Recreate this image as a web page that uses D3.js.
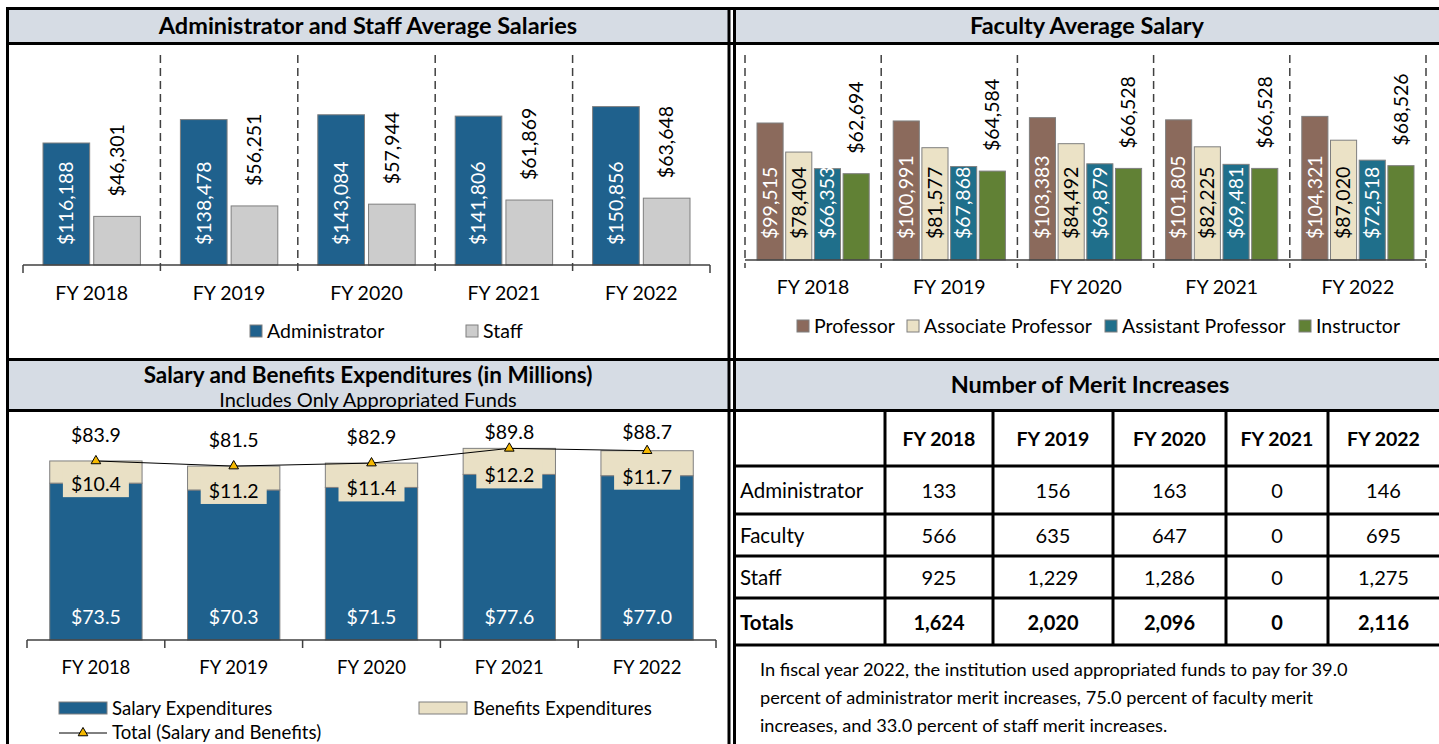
<!DOCTYPE html>
<html>
<head>
<meta charset="utf-8">
<script src="https://cdn.jsdelivr.net/npm/d3@7"></script>
<style>
  body { margin: 0; background: #fff; }
  svg { display: block; font-family: Lato, "Open Sans", sans-serif; }
</style>
</head>
<body>
<svg id="page" width="1439" height="744"></svg>
<script>
// ---------- data ----------
const years = ["FY 2018", "FY 2019", "FY 2020", "FY 2021", "FY 2022"];

const adminSalary = [116188, 138478, 143084, 141806, 150856];
const staffSalary = [46301, 56251, 57944, 61869, 63648];

const facultyRanks = ["Professor", "Associate Professor", "Assistant Professor", "Instructor"];
const professorSalary = [99515, 100991, 103383, 101805, 104321];
const assocSalary = [78404, 81577, 84492, 82225, 87020];
const asstSalary = [66353, 67868, 69879, 69481, 72518];
const instructorSalary = [62694, 64584, 66528, 66528, 68526];

const salaryExp = [73.5, 70.3, 71.5, 77.6, 77.0];
const benefitsExp = [10.4, 11.2, 11.4, 12.2, 11.7];
const totalExp = [83.9, 81.5, 82.9, 89.8, 88.7];

const meritRows = ["Administrator", "Faculty", "Staff", "Totals"];
const meritAdmin = [133, 156, 163, 0, 146];
const meritFaculty = [566, 635, 647, 0, 695];
const meritStaff = [925, 1229, 1286, 0, 1275];
const meritTotals = [1624, 2020, 2096, 0, 2116];

const meritNote = [
    "In fiscal year 2022, the institution used appropriated funds to pay for 39.0",
    "percent of administrator merit increases, 75.0 percent of faculty merit",
    "increases, and 33.0 percent of staff merit increases."
];

// ---------- colours / type ----------
const headerFill = "#d6dce4";
const barStroke = "#7f7f7f";
const blue = "#1f618d";
const staffGray = "#cccccc";
const rankColors = ["#8b6a5c", "#ebe2c6", "#1f6f8b", "#618135"];
const beige = "#e9e0c5";
const FS = 19.5;     // chart text in the top panels

const svg = d3.select("#page");
const fmtMoney = d3.format("$,");
const fmtMil = d3.format("$.1f");
const fmtCount = d3.format(",");

/**
 * Rotated value label (reads bottom to top), anchored at its start
 */
function vLabel(g, x, y, text, color) {
    g.append("text")
        .attr("transform", `translate(${x},${y}) rotate(-90)`)
        .attr("dy", "0.35em")
        .attr("font-size", FS)
        .attr("fill", color)
        .text(text);
}

/**
 * Panel borders and header strips
 */
function drawFrame() {
    const g = svg.append("g");
    g.append("rect").attr("x", 8).attr("y", 9).attr("width", 720).attr("height", 34).attr("fill", headerFill);
    g.append("rect").attr("x", 736).attr("y", 9).attr("width", 703).attr("height", 34).attr("fill", headerFill);
    g.append("rect").attr("x", 8).attr("y", 360).attr("width", 720).attr("height", 50).attr("fill", headerFill);
    g.append("rect").attr("x", 736).attr("y", 360).attr("width", 703).attr("height", 50).attr("fill", headerFill);

    const lines = [
        [6, 8.5, 1439, 8.5],
        [6, 43.5, 1439, 43.5],
        [6, 359.5, 1439, 359.5],
        [6, 410.5, 1439, 410.5],
        [7.5, 7, 7.5, 744],
        [729, 7, 729, 744],
        [734.5, 7, 734.5, 744]
    ];
    g.selectAll("line").data(lines).enter().append("line")
        .attr("x1", d => d[0]).attr("y1", d => d[1])
        .attr("x2", d => d[2]).attr("y2", d => d[3])
        .attr("stroke", "#000").attr("stroke-width", 3);

    const titles = [
        { x: 368, y: 26, t: "Administrator and Staff Average Salaries", b: true, s: 23.5 },
        { x: 1087, y: 26, t: "Faculty Average Salary", b: true, s: 23.5 },
        { x: 368, y: 375, t: "Salary and Benefits Expenditures (in Millions)", b: true, s: 22.5 },
        { x: 368, y: 400, t: "Includes Only Appropriated Funds", b: false, s: 20 },
        { x: 1090, y: 385, t: "Number of Merit Increases", b: true, s: 23.5 }
    ];
    g.selectAll("text").data(titles).enter().append("text")
        .attr("x", d => d.x).attr("y", d => d.y)
        .attr("dy", "0.35em")
        .attr("text-anchor", "middle")
        .attr("font-size", d => d.s)
        .attr("font-weight", d => d.b ? "bold" : "normal")
        .text(d => d.t);
}

/**
 * Administrator and staff grouped bars
 */
function drawAdminStaff() {
    const g = svg.append("g");
    const base = 265;
    const x = d3.scaleBand().domain(years).range([23, 710]);
    const inner = d3.scaleBand().domain(["admin", "staff"]).range([20, x.bandwidth() - 20]).paddingInner(0.08);
    const y = d3.scaleLinear().domain([0, 200000]).range([base, 55]);

    // separators
    g.selectAll(".sep").data(years.slice(1)).enter().append("line")
        .attr("x1", d => x(d)).attr("x2", d => x(d))
        .attr("y1", 55).attr("y2", 273)
        .attr("stroke", "#404040").attr("stroke-width", 1.5).attr("stroke-dasharray", "8,5");

    const series = [
        { key: "admin", vals: adminSalary, fill: blue },
        { key: "staff", vals: staffSalary, fill: staffGray }
    ];
    series.forEach(s => {
        g.selectAll(".b-" + s.key).data(s.vals).enter().append("rect")
            .attr("x", (d, i) => x(years[i]) + inner(s.key))
            .attr("y", d => y(d))
            .attr("width", inner.bandwidth())
            .attr("height", d => base - y(d))
            .attr("fill", s.fill).attr("stroke", barStroke);
    });

    adminSalary.forEach((v, i) => {
        vLabel(g, x(years[i]) + inner("admin") + inner.bandwidth() / 2, base - 20, fmtMoney(v), "#fff");
    });
    staffSalary.forEach((v, i) => {
        vLabel(g, x(years[i]) + inner("staff") + inner.bandwidth() / 2, y(v) - 20, fmtMoney(v), "#000");
    });

    // axis
    g.append("line").attr("x1", 23).attr("x2", 710).attr("y1", base).attr("y2", base).attr("stroke", "#404040").attr("stroke-width", 1.5);
    [23, 710].forEach(t => g.append("line").attr("x1", t).attr("x2", t).attr("y1", base).attr("y2", base + 8).attr("stroke", "#404040").attr("stroke-width", 1.5));
    g.selectAll(".cat").data(years).enter().append("text")
        .attr("x", d => x(d) + x.bandwidth() / 2).attr("y", 293).attr("dy", "0.35em")
        .attr("text-anchor", "middle").attr("font-size", FS).text(d => d);

    // legend
    const leg = [{ x: 250, t: "Administrator", c: blue }, { x: 466, t: "Staff", c: staffGray }];
    leg.forEach(l => {
        g.append("rect").attr("x", l.x).attr("y", 325).attr("width", 12).attr("height", 12).attr("fill", l.c).attr("stroke", barStroke);
        g.append("text").attr("x", l.x + 17).attr("y", 331).attr("dy", "0.35em").attr("font-size", FS).text(l.t);
    });
}

/**
 * Faculty salaries by rank
 */
function drawFaculty() {
    const g = svg.append("g");
    const base = 260;
    const x = d3.scaleBand().domain(years).range([745, 1426]);
    const inner = d3.scaleBand().domain(facultyRanks).range([12, x.bandwidth() - 12]).paddingInner(0.09);
    const y = d3.scaleLinear().domain([0, 150000]).range([base, base - 206.5]);
    const seriesVals = [professorSalary, assocSalary, asstSalary, instructorSalary];

    const bounds = years.map(d => x(d)).concat([x(years[4]) + x.bandwidth()]);
    g.selectAll(".sep").data(bounds).enter().append("line")
        .attr("x1", d => d).attr("x2", d => d)
        .attr("y1", 55).attr("y2", 268)
        .attr("stroke", "#404040").attr("stroke-width", 1.5).attr("stroke-dasharray", "8,5");

    facultyRanks.forEach((rank, k) => {
        g.selectAll(".r" + k).data(seriesVals[k]).enter().append("rect")
            .attr("x", (d, i) => x(years[i]) + inner(rank))
            .attr("y", d => y(d))
            .attr("width", inner.bandwidth())
            .attr("height", d => base - y(d))
            .attr("fill", rankColors[k]).attr("stroke", barStroke);
    });

    const labelColors = ["#fff", "#000", "#fff"];
    facultyRanks.forEach((rank, k) => {
        seriesVals[k].forEach((v, i) => {
            const cx = x(years[i]) + inner(rank) + inner.bandwidth() / 2;
            if (k < 3) vLabel(g, cx, base - 21, fmtMoney(v), labelColors[k]);
            else vLabel(g, cx, y(v) - 20, fmtMoney(v), "#000");
        });
    });

    g.append("line").attr("x1", 745).attr("x2", 1426).attr("y1", base).attr("y2", base).attr("stroke", "#404040").attr("stroke-width", 1.5);
    g.selectAll(".cat").data(years).enter().append("text")
        .attr("x", d => x(d) + x.bandwidth() / 2).attr("y", 287).attr("dy", "0.35em")
        .attr("text-anchor", "middle").attr("font-size", FS).text(d => d);

    const legX = [797, 907, 1105, 1299];
    facultyRanks.forEach((rank, k) => {
        g.append("rect").attr("x", legX[k]).attr("y", 320).attr("width", 12).attr("height", 12).attr("fill", rankColors[k]).attr("stroke", barStroke);
        g.append("text").attr("x", legX[k] + 17).attr("y", 326).attr("dy", "0.35em").attr("font-size", FS).text(rank);
    });
}

/**
 * Stacked salary + benefits with total line
 */
function drawExpenditures() {
    const g = svg.append("g");
    const base = 640;
    const x = d3.scaleBand().domain(years).range([27, 716]).paddingInner(0.33).paddingOuter(0.165);
    const y = d3.scaleLinear().domain([0, 100]).range([base, base - 213.4]);
    const cx = i => x(years[i]) + x.bandwidth() / 2;

    g.selectAll(".sal").data(salaryExp).enter().append("rect")
        .attr("x", (d, i) => x(years[i])).attr("y", d => y(d))
        .attr("width", x.bandwidth()).attr("height", d => base - y(d))
        .attr("fill", blue).attr("stroke", barStroke);
    g.selectAll(".ben").data(benefitsExp).enter().append("rect")
        .attr("x", (d, i) => x(years[i])).attr("y", (d, i) => y(salaryExp[i] + d))
        .attr("width", x.bandwidth()).attr("height", (d, i) => y(salaryExp[i]) - y(salaryExp[i] + d))
        .attr("fill", beige).attr("stroke", barStroke);

    // benefits labels with filled background
    benefitsExp.forEach((v, i) => {
        const ty = y(salaryExp[i]) + 1;
        g.append("rect").attr("x", cx(i) - 33).attr("y", ty - 16).attr("width", 66).attr("height", 29).attr("fill", beige);
        g.append("text").attr("x", cx(i)).attr("y", ty).attr("dy", "0.35em").attr("text-anchor", "middle")
            .attr("font-size", 19.5).text(fmtMil(v));
    });
    salaryExp.forEach((v, i) => {
        g.append("text").attr("x", cx(i)).attr("y", base - 23).attr("dy", "0.35em").attr("text-anchor", "middle")
            .attr("font-size", 19.5).attr("fill", "#fff").text(fmtMil(v));
    });

    // total line
    const line = d3.line().x((d, i) => cx(i)).y(d => y(d));
    g.append("path").datum(totalExp).attr("d", line).attr("fill", "none").attr("stroke", "#000").attr("stroke-width", 1);
    const tri = d3.symbol(d3.symbolTriangle).size(40);
    g.selectAll(".mk").data(totalExp).enter().append("path")
        .attr("d", tri).attr("transform", (d, i) => `translate(${cx(i)},${y(d)})`)
        .attr("fill", "#f5b800").attr("stroke", "#000").attr("stroke-width", 1);
    totalExp.forEach((v, i) => {
        g.append("text").attr("x", cx(i)).attr("y", Math.max(y(v) - 26, y(100) + 6)).attr("dy", "0.35em")
            .attr("text-anchor", "middle").attr("font-size", 19.5).text(fmtMil(v));
    });

    // axis
    g.append("line").attr("x1", 27).attr("x2", 716).attr("y1", base).attr("y2", base).attr("stroke", "#404040").attr("stroke-width", 1.5);
    const ticks = years.map(d => x.step() * years.indexOf(d) + 27).concat([716]);
    g.selectAll(".tk").data(ticks).enter().append("line")
        .attr("x1", d => d).attr("x2", d => d).attr("y1", base).attr("y2", base + 8)
        .attr("stroke", "#404040").attr("stroke-width", 1.5);
    g.selectAll(".cat").data(years).enter().append("text")
        .attr("x", (d, i) => cx(i)).attr("y", 668).attr("dy", "0.35em")
        .attr("text-anchor", "middle").attr("font-size", 18.5).text(d => d);

    // legend
    g.append("rect").attr("x", 59).attr("y", 702).attr("width", 48).attr("height", 12).attr("fill", blue).attr("stroke", barStroke);
    g.append("text").attr("x", 112).attr("y", 708).attr("dy", "0.35em").attr("font-size", 18.6).text("Salary Expenditures");
    g.append("rect").attr("x", 419).attr("y", 702).attr("width", 48).attr("height", 12).attr("fill", beige).attr("stroke", barStroke);
    g.append("text").attr("x", 473).attr("y", 708).attr("dy", "0.35em").attr("font-size", 18.6).text("Benefits Expenditures");
    g.append("line").attr("x1", 59).attr("x2", 107).attr("y1", 733).attr("y2", 733).attr("stroke", "#000");
    g.append("path").attr("d", tri).attr("transform", "translate(83,733)").attr("fill", "#f5b800").attr("stroke", "#000");
    g.append("text").attr("x", 112).attr("y", 732).attr("dy", "0.35em").attr("font-size", 18.6).text("Total (Salary and Benefits)");
}

/**
 * Merit increase table and note
 */
function drawMeritTable() {
    const g = svg.append("g");
    const colEdges = [736, 885, 993, 1113, 1226, 1328, 1439];
    const rowEdges = [410, 466, 514, 556, 598, 645];
    const rowVals = [meritAdmin, meritFaculty, meritStaff, meritTotals];

    rowEdges.slice(1).forEach(ry => {
        g.append("line").attr("x1", 736).attr("x2", 1439).attr("y1", ry).attr("y2", ry).attr("stroke", "#000").attr("stroke-width", 3);
    });
    colEdges.slice(1, 6).forEach(cx => {
        g.append("line").attr("x1", cx).attr("x2", cx).attr("y1", 410).attr("y2", 645).attr("stroke", "#000").attr("stroke-width", 3);
    });

    const colMid = k => (colEdges[k + 1] + colEdges[k + 2]) / 2;
    const rowMid = r => (rowEdges[r] + rowEdges[r + 1]) / 2 + 1;

    years.forEach((yr, k) => {
        g.append("text").attr("x", colMid(k)).attr("y", rowMid(0)).attr("dy", "0.35em")
            .attr("text-anchor", "middle").attr("font-size", 19.5).attr("font-weight", "bold").text(yr);
    });
    meritRows.forEach((name, r) => {
        const bold = name === "Totals";
        g.append("text").attr("x", 740).attr("y", rowMid(r + 1)).attr("dy", "0.35em")
            .attr("font-size", 20.5).attr("font-weight", bold ? "bold" : "normal").text(name);
        rowVals[r].forEach((v, k) => {
            g.append("text").attr("x", colMid(k)).attr("y", rowMid(r + 1)).attr("dy", "0.35em")
                .attr("text-anchor", "middle").attr("font-size", 20)
                .attr("font-weight", bold ? "bold" : "normal").text(fmtCount(v));
        });
    });

    meritNote.forEach((t, i) => {
        g.append("text").attr("x", 760).attr("y", 670 + i * 28).attr("dy", "0.35em").attr("font-size", 18.2).text(t);
    });
}

drawFrame();
drawAdminStaff();
drawFaculty();
drawExpenditures();
drawMeritTable();
</script>
</body>
</html>
